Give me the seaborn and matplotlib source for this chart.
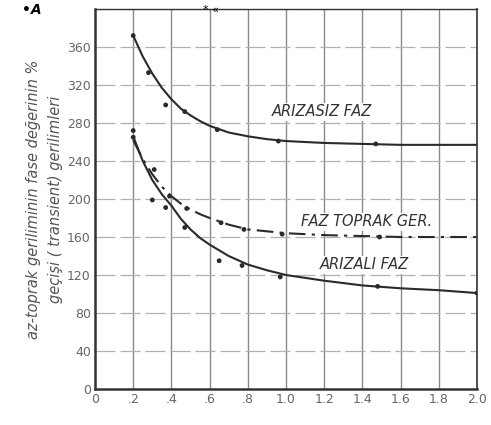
import numpy as np
import pandas as pd
import matplotlib
matplotlib.use("Agg")
import matplotlib.pyplot as plt
import seaborn as sns

# ---- data ----
curve_x = [0.2, 0.25, 0.3, 0.35, 0.4, 0.45, 0.5, 0.55, 0.6, 0.7, 0.8, 0.9, 1.0,
           1.2, 1.4, 1.6, 1.8, 2.0]
arizasiz_curve = [372, 350, 332, 317, 305, 295, 288, 282, 277, 270, 266, 263, 261,
                  259, 258, 257, 257, 257]
toprak_curve   = [262, 242, 226, 213, 203, 195, 189, 184, 180, 173, 168, 166, 164,
                  162, 161, 160, 160, 160]
arizali_curve  = [266, 240, 220, 205, 193, 179, 168, 159, 152, 140, 131, 125, 120,
                  114, 109, 106, 104, 101]

arizasiz_px = [0.2, 0.28, 0.37, 0.47, 0.64, 0.96, 1.47]
arizasiz_py = [372, 333, 299, 292, 273, 261, 258]
toprak_px = [0.2, 0.31, 0.39, 0.48, 0.66, 0.78, 0.98, 1.49]
toprak_py = [265, 231, 203, 190, 175, 168, 163, 160]
arizali_px = [0.2, 0.3, 0.37, 0.47, 0.65, 0.77, 0.97, 1.48, 2.0]
arizali_py = [272, 199, 191, 170, 135, 130, 118, 108, 101]

x_ticks = [0, 0.2, 0.4, 0.6, 0.8, 1.0, 1.2, 1.4, 1.6, 1.8, 2.0]
x_ticklabels = ["0", ".2", ".4", ".6", ".8", "1.0", "1.2", "1.4", "1.6", "1.8", "2.0"]
y_ticks = [0, 40, 80, 120, 160, 200, 240, 280, 320, 360]
y_ticklabels = ["0", "40", "80", "120", "160", "200", "240", "280", "320", "360"]

labels = ["ARIZASIZ FAZ", "FAZ TOPRAK GER.", "ARIZALI FAZ"]
label_x = [1.19, 1.42, 1.41]
label_y = [292, 176, 131]
ylabel = "az-toprak geriliminin fase değerinin %\ngeçişi ( transient) gerilimleri"

# ---- build tables ----
curves = pd.concat([
    pd.DataFrame({"x": curve_x, "y": arizasiz_curve, "s": "ARIZASIZ FAZ"}),
    pd.DataFrame({"x": curve_x, "y": toprak_curve, "s": "FAZ TOPRAK GER."}),
    pd.DataFrame({"x": curve_x, "y": arizali_curve, "s": "ARIZALI FAZ"}),
])
points = pd.concat([
    pd.DataFrame({"x": arizasiz_px, "y": arizasiz_py, "s": "ARIZASIZ FAZ"}),
    pd.DataFrame({"x": toprak_px, "y": toprak_py, "s": "FAZ TOPRAK GER."}),
    pd.DataFrame({"x": arizali_px, "y": arizali_py, "s": "ARIZALI FAZ"}),
])

sns.set_style("white")
plt.rcParams["font.family"] = ["DejaVu Sans"]

fig = plt.figure(figsize=(4.91, 4.25), dpi=100)
ax = fig.add_axes([95/491, 1-389/425, (477-95)/491, (389-9)/425])

ink = "#2a2a2a"
for name, ls in [("ARIZASIZ FAZ", "-"), ("FAZ TOPRAK GER.", (0, (8, 3, 1.5, 3))), ("ARIZALI FAZ", "-")]:
    d = curves[curves["s"] == name]
    sns.lineplot(data=d, x="x", y="y", ax=ax, color=ink, lw=1.5,
                 linestyle=ls, estimator=None, sort=True, legend=False)
sns.scatterplot(data=points, x="x", y="y", ax=ax, color=ink, s=12,
                edgecolor="none", legend=False, zorder=5)

ax.set_xlim(0, 2.0)
ax.set_ylim(0, 400)
ax.set_xticks(x_ticks)
ax.set_xticklabels(x_ticklabels)
ax.set_yticks(y_ticks)
ax.set_yticklabels(y_ticklabels)
ax.set_xlabel("")
ax.set_ylabel(ylabel, fontsize=10.5, style="italic", color="#555", labelpad=3,
              linespacing=1.6)

for v in x_ticks[1:-1]:
    ax.axvline(v, color="#8a8a8a", lw=1.0, zorder=0)
for v in y_ticks[1:] + [400]:
    ax.axhline(v, color="#b0b0b0", lw=0.9, ls=(0, (16, 4)), zorder=0)

ax.tick_params(axis="both", length=0, labelsize=9, colors="#666", pad=3)
for sp in ax.spines.values():
    sp.set_visible(True)
    sp.set_color("#333")
ax.spines["left"].set_linewidth(1.8)
ax.spines["bottom"].set_linewidth(1.8)
ax.spines["right"].set_linewidth(1.2)
ax.spines["top"].set_linewidth(1.0)

for t, lx, ly in zip(labels, label_x, label_y):
    ax.text(lx, ly, t, ha="center", va="center", fontsize=10.5, style="italic",
            color="#333", bbox=dict(facecolor="white", edgecolor="none", pad=1))

fig.text(22/491, 1-10/425, "•A", fontsize=10, fontweight="bold", style="italic",
         va="center", ha="left", color="black")
fig.text(203/491, 1-10/425, "* «", fontsize=8, va="center", ha="left", color="black")

fig.savefig("out.png", dpi=100, facecolor="white")
